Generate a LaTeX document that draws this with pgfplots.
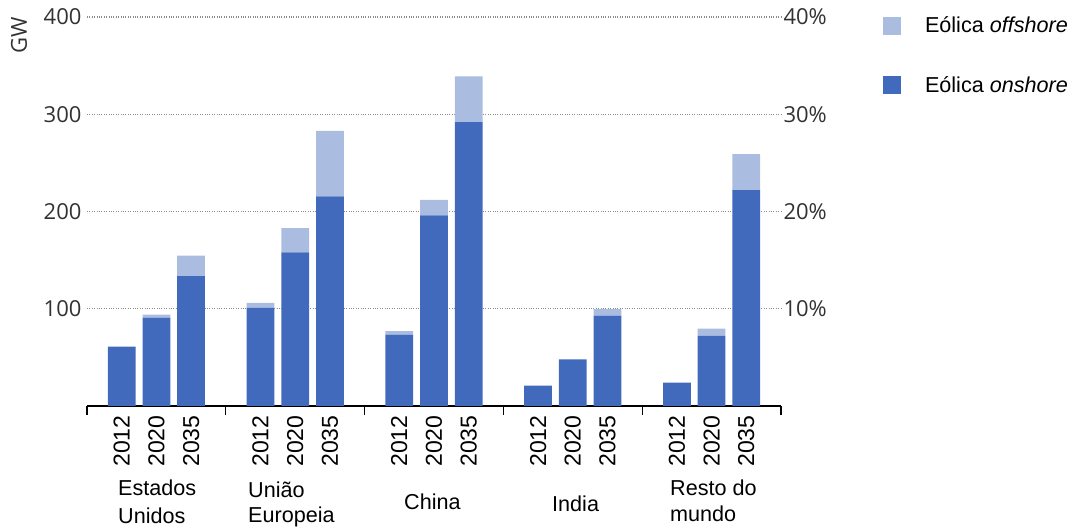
\documentclass[border=0pt]{standalone}
\usepackage{fontspec}
\setmainfont{Liberation Sans}
\newfontfamily\segoe{Open Sans}
\usepackage{pgfplots}
\pgfplotsset{compat=1.18}
\definecolor{onc}{RGB}{65,106,189}
\definecolor{offc}{RGB}{170,189,224}
\definecolor{tk}{RGB}{50,50,50}
\definecolor{gridc}{RGB}{140,140,140}
\begin{document}
\begin{tikzpicture}[x=1pt,y=1pt]
\useasboundingbox (0,0) rectangle (1075,527);
\begin{axis}[
  at={(87pt,121pt)}, anchor=south west,
  scale only axis, width=694pt, height=389pt,
  xmin=0, xmax=20, ymin=0, ymax=400,
  ybar stacked, bar width=0.8,
  axis x line*=bottom, axis y line*=left,
  x axis line style={-, line width=1.3pt, black},
  y axis line style={draw=none},
  ytick={100,200,300,400},
  yticklabels={100,200,300,400},
  ymajorgrids, grid style={dotted, gridc, line width=1.1pt},
  major y tick style={draw=none},
  yticklabel style={font=\segoe\fontsize{22}{22}\selectfont, text=tk, xshift=-2pt},
  xtick={1,2,3,5,6,7,9,10,11,13,14,15,17,18,19},
  xticklabels={2012,2020,2035,2012,2020,2035,2012,2020,2035,2012,2020,2035,2012,2020,2035},
  xticklabel style={rotate=90, anchor=east, font=\fontsize{23}{23}\selectfont, xshift=-6pt},
  major x tick style={draw=none},
  extra x ticks={0,4,8,12,16,20},
  extra x tick labels={},
  extra x tick style={xtick align=outside, major tick length=9pt, major x tick style={draw=black, line width=1.3pt}},
  legend style={at={(axis description cs:1.147,1.005)}, anchor=north west, draw=none, fill=none,
    inner sep=0pt, outer sep=0pt, row sep=38pt, column sep=22pt,
    font=\fontsize{21.6}{22}\selectfont},
  legend cell align=left,
  reverse legend,
]
\addplot[fill=onc, draw=none, legend image code/.code={\fill[onc] (0pt,-9pt) rectangle (18pt,9pt);}] coordinates {
 (1,61) (2,91) (3,133.5)
 (5,101) (6,158) (7,215.5)
 (9,73.5) (10,196) (11,292)
 (13,21) (14,48) (15,93)
 (17,24) (18,72) (19,222)};
\addlegendentry{Eólica \textit{onshore}}
\addplot[fill=offc, draw=none, legend image code/.code={\fill[offc] (0pt,-9pt) rectangle (18pt,9pt);}] coordinates {
 (1,0) (2,3) (3,21)
 (5,5) (6,25) (7,67.5)
 (9,3.5) (10,16) (11,47)
 (13,0) (14,0) (15,6.5)
 (17,0) (18,7.5) (19,37)};
\addlegendentry{Eólica \textit{offshore}}
\end{axis}
\begin{axis}[
  at={(87pt,121pt)}, anchor=south west,
  scale only axis, width=694pt, height=389pt,
  xmin=0, xmax=20, ymin=0, ymax=400,
  axis x line=none, axis y line*=right,
  y axis line style={draw=none},
  major y tick style={draw=none},
  ytick={100,200,300,400},
  yticklabels={10\%,20\%,30\%,40\%},
  yticklabel style={font=\segoe\fontsize{22}{22}\selectfont, text=tk, xshift=-1pt},
]
\end{axis}
\node[rotate=90, font=\segoe\fontsize{22}{22}\selectfont, text=tk] at (19,492) {GW};
\begin{scope}[every node/.style={font=\fontsize{21.6}{22}\selectfont, anchor=base west, inner sep=0pt}]
\node at (118,32) {Estados};
\node at (118,4) {Unidos};
\node at (248,30) {União};
\node at (248,5) {Europeia};
\node at (404,18) {China};
\node at (552,16) {India};
\node at (670,31) {Resto do};
\node at (670,6) {mundo};
\end{scope}
\end{tikzpicture}
\end{document}
